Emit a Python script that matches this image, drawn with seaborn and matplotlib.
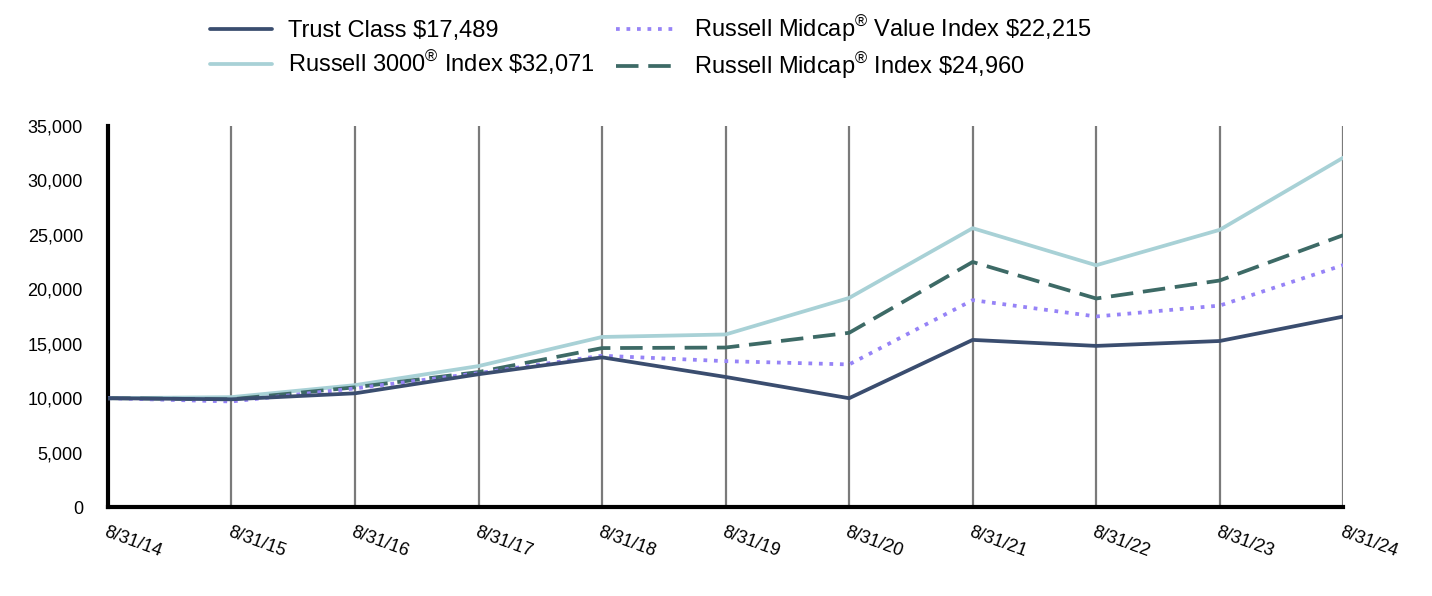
import matplotlib
matplotlib.use("Agg")
import matplotlib.pyplot as plt
import matplotlib.ticker as mticker
import seaborn as sns
import pandas as pd

dates = ["8/31/14", "8/31/15", "8/31/16", "8/31/17", "8/31/18", "8/31/19",
         "8/31/20", "8/31/21", "8/31/22", "8/31/23", "8/31/24"]

trust_class = [10000, 9900, 10450, 12200, 13750, 11950, 10000, 15350, 14800, 15250, 17489]
russell_3000 = [10000, 10100, 11200, 12950, 15620, 15850, 19200, 25600, 22200, 25450, 32071]
midcap_value = [10000, 9700, 10900, 12300, 13900, 13400, 13100, 19000, 17500, 18500, 22215]
midcap = [10000, 9900, 11000, 12400, 14600, 14650, 16000, 22500, 19150, 20800, 24960]

labels = [r"Trust Class \$17,489",
          r"Russell 3000$^{\u00ae}$ Index \$32,071",
          r"Russell Midcap$^{\u00ae}$ Value Index \$22,215",
          r"Russell Midcap$^{\u00ae}$ Index \$24,960"]
labels = [l.replace(r"\u00ae", "\u00ae") for l in labels]

colors = ["#3a4d6f", "#a8d1d6", "#9683f7", "#3d6a66"]
styles = ["-", "-", (0, (1, 1.8)), (0, (6, 2.6))]

sns.set_theme(style="white")
plt.rcParams["font.family"] = ["Liberation Sans", "DejaVu Sans"]
plt.rcParams["mathtext.default"] = "regular"
plt.rcParams["text.color"] = "black"
plt.rcParams["xtick.color"] = "black"
plt.rcParams["ytick.color"] = "black"

fig = plt.figure(figsize=(14.32, 5.96), dpi=100)
ax = fig.add_axes([0.0754, 0.149, 0.8626, 0.640])

x = list(range(len(dates)))
series = [trust_class, russell_3000, midcap_value, midcap]
draw_order = [1, 3, 2, 0]
handles = {}
for i in draw_order:
    df = pd.DataFrame({"x": x, "value": series[i]})
    sns.lineplot(data=df, x="x", y="value", ax=ax, color=colors[i], linewidth=2.7,
                 label=labels[i], zorder=3 + (i == 0))
    line = ax.get_lines()[-1]
    line.set_linestyle(styles[i])
    handles[i] = line

ax.set_xlim(0, 10)
ax.set_ylim(0, 35000)
ax.set_xticks(x)
ax.set_xticklabels(dates, rotation=-20, ha="left", rotation_mode="anchor", fontsize=13)
ax.set_yticks(range(0, 35001, 5000))
ax.yaxis.set_major_formatter(mticker.FuncFormatter(lambda v, p: f"{int(v):,}"))
ax.tick_params(axis="y", labelsize=13, pad=18, length=0)
ax.tick_params(axis="x", pad=12, length=0)
ax.set_xlabel("")
ax.set_ylabel("")

for xi in x[1:]:
    ax.axvline(xi, color="#7a7a7a", linewidth=1.6, zorder=1)

for s in ["top", "right"]:
    ax.spines[s].set_visible(False)
for s in ["left", "bottom"]:
    ax.spines[s].set_color("black")
    ax.spines[s].set_linewidth(3)

ax.get_legend().remove()
fig.legend([handles[i] for i in range(4)], labels, ncol=2, frameon=False,
           loc="upper left", bbox_to_anchor=(0.132, 1.012), fontsize=17,
           handlelength=2.6, handletextpad=0.7, columnspacing=0.9,
           labelspacing=0.3)

fig.savefig("out.png", dpi=100)
